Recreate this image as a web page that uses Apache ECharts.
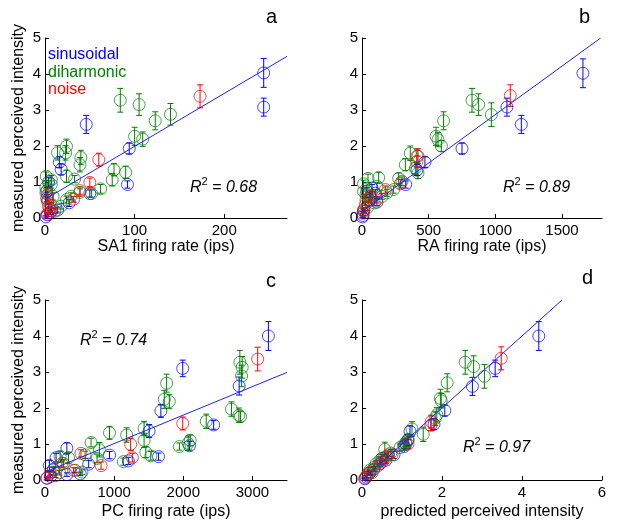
<!DOCTYPE html>
<html><head><meta charset="utf-8">
<script src="https://cdn.jsdelivr.net/npm/echarts@6/dist/echarts.min.js"></script>
<style>html,body{margin:0;padding:0;background:#fff}#c{width:618px;height:526px}</style>
</head><body><div id="c"></div>
<script>
// ---- data: [x, y, error] ----
const saBlue = [[244,4.03,0.4],[244,3.08,0.25],[46,2.6,0.25],[94,1.93,0.15],[92,0.93,0.1],[16,1.55,0.15],[18,1.35,0.15],[50,0.68,0.1],[27,0.42,0.1],[14,0.22,0.08],[4,1.0,0.12],[2,0.55,0.1],[3,0.09,0.05],[1,0.03,0.03],[6,0.15,0.05],[2,0.75,0.1]];
const saGreen = [[84,3.27,0.33],[105,3.15,0.3],[123,2.7,0.25],[140,2.88,0.3],[100,2.27,0.25],[109,2.19,0.2],[24,1.99,0.2],[23,1.81,0.2],[14,1.81,0.2],[40,1.68,0.2],[39,1.48,0.2],[77,1.34,0.17],[90,1.27,0.17],[75,1.06,0.17],[24,1.16,0.17],[33,1.08,0.1],[62,0.81,0.12],[52,0.68,0.1],[39,0.71,0.1],[29,0.6,0.1],[24,0.51,0.1],[18,0.33,0.08],[11,0.19,0.06],[1.5,1.16,0.12],[7,1.06,0.12],[7,0.93,0.1],[1,0.85,0.1],[1,0.71,0.1],[9,0.6,0.1],[7,0.35,0.08],[3,0.45,0.08]];
const saNoise = [[173,3.38,0.32],[60,1.62,0.18],[50,0.99,0.12],[39,0.76,0.1],[32,0.52,0.08],[3,0.65,0.1],[3,0.5,0.08],[4,0.32,0.07],[7,0.2,0.06],[2,0.1,0.05],[5,0.25,0.05]];

const raBlue = [[1657,4.02,0.4],[1087,3.08,0.25],[1195,2.6,0.25],[750,1.93,0.15],[472,1.55,0.15],[412,1.33,0.15],[328,0.93,0.1],[75,0.83,0.1],[37,0.74,0.1],[112,0.44,0.1],[60,0.5,0.08],[12,0.22,0.06],[8,0.07,0.05],[3,0.03,0.03],[100,0.69,0.1]];
const raGreen = [[825,3.27,0.33],[875,3.15,0.3],[970,2.87,0.33],[612,2.7,0.25],[555,2.27,0.25],[570,2.18,0.2],[595,2.0,0.15],[362,1.8,0.2],[420,1.72,0.2],[325,1.48,0.17],[400,1.38,0.17],[420,1.25,0.15],[275,1.1,0.15],[300,1.02,0.12],[125,1.12,0.15],[45,1.1,0.12],[12,0.95,0.1],[12,0.74,0.1],[112,0.88,0.1],[187,0.7,0.1],[237,0.79,0.1],[62,0.6,0.1],[50,0.5,0.08],[92,0.42,0.08],[40,0.28,0.07],[12,0.19,0.06],[30,0.65,0.1],[150,0.6,0.08]];
const raNoise = [[1112,3.4,0.3],[412,1.72,0.2],[412,1.57,0.15],[287,0.95,0.12],[175,0.79,0.1],[110,0.5,0.08],[62,0.6,0.1],[25,0.37,0.08],[15,0.23,0.06],[8,0.13,0.05],[30,0.5,0.07]];

const pcBlue = [[3231,4.0,0.4],[1992,3.1,0.23],[2808,2.61,0.25],[1676,1.92,0.18],[1506,1.36,0.18],[2439,1.53,0.12],[2089,0.95,0.12],[1642,0.65,0.1],[1205,0.53,0.1],[933,0.69,0.1],[632,0.44,0.1],[316,0.88,0.15],[63,0.4,0.15],[160,0.62,0.12],[316,0.15,0.05],[510,0.17,0.05],[121,0.28,0.06],[30,0.05,0.03],[80,0.1,0.04]];
const pcGreen = [[2818,3.27,0.33],[2852,3.13,0.3],[2843,2.89,0.3],[1759,2.69,0.25],[1725,2.24,0.25],[1798,2.18,0.2],[2697,1.97,0.2],[2804,1.8,0.2],[2828,1.76,0.15],[2332,1.63,0.2],[1433,1.43,0.2],[1433,1.1,0.2],[1458,0.77,0.15],[1531,0.67,0.12],[1181,1.25,0.2],[933,1.31,0.18],[666,1.04,0.12],[787,0.84,0.2],[1132,0.51,0.1],[1944,0.93,0.1],[2070,1.02,0.2],[2100,1.1,0.15],[340,0.62,0.15],[219,0.65,0.15],[753,0.6,0.12],[535,0.22,0.06],[267,0.46,0.1],[121,0.3,0.08],[209,0.2,0.06],[437,0.27,0.07],[580,0.7,0.1]];
const pcNoise = [[3076,3.36,0.33],[1992,1.57,0.18],[1239,0.99,0.17],[1263,0.62,0.12],[811,0.4,0.1],[520,0.74,0.1],[413,0.27,0.07],[243,0.46,0.1],[73,0.19,0.06],[24,0.05,0.04],[150,0.12,0.05]];

const pdBlue = [[4.42,4.0,0.4],[3.33,3.1,0.23],[2.76,2.6,0.25],[2.07,1.93,0.15],[1.8,1.55,0.15],[1.2,1.35,0.15],[1.15,1.12,0.15],[1.1,1.0,0.12],[1.05,0.93,0.1],[0.8,0.7,0.1],[0.6,0.55,0.1],[0.45,0.45,0.08],[0.3,0.3,0.07],[0.2,0.2,0.06],[0.1,0.08,0.05],[0.07,0.03,0.03],[0.5,0.6,0.1]];
const pdGreen = [[2.58,3.27,0.33],[2.79,3.15,0.3],[3.06,2.88,0.33],[2.13,2.7,0.25],[1.96,2.27,0.25],[1.98,2.2,0.2],[1.87,1.81,0.2],[1.83,1.71,0.2],[1.53,1.27,0.2],[1.25,1.42,0.2],[1.15,1.1,0.15],[1.1,1.05,0.12],[0.57,0.85,0.2],[0.65,0.7,0.1],[0.75,0.7,0.1],[0.45,0.55,0.1],[0.35,0.45,0.08],[0.3,0.35,0.07],[0.2,0.28,0.06],[0.15,0.18,0.05],[1.05,0.98,0.1],[0.95,0.9,0.1],[0.55,0.62,0.1],[0.25,0.2,0.06]];
const pdNoise = [[3.48,3.38,0.32],[1.73,1.62,0.18],[1.72,1.52,0.15],[1.15,1.0,0.12],[0.72,0.75,0.1],[0.62,0.65,0.1],[0.5,0.5,0.08],[0.4,0.4,0.07],[0.2,0.22,0.06],[0.12,0.12,0.05],[0.08,0.05,0.04]];

// regression lines (endpoints)
const fitSA = [[0,0.52],[270,4.49]];
const fitRA = [[0,0.18],[1790,5.0]];
const fitPC = [[0,0.22],[3500,2.99]];
const fitPD = [[0,0],[5,5]];

// tick labels
const ticksSA = [0,100,200];
const ticksRA = [0,500,1000,1500];
const ticksPC = [0,1000,2000,3000];
const ticksPD = [0,2,4,6];
const ticksY = [0,1,2,3,4,5];

const xNames = ['SA1 firing rate (ips)','RA firing rate (ips)','PC firing rate (ips)','predicted perceived intensity'];
const xMax = [270,1800,3500,6];
const r2Labels = ['0.68','0.89','0.74','0.97'];
const panelLetters = ['a','b','c','d'];
const legendNames = ['sinusoidal','diharmonic','noise'];

const BLUE='#0000ff', GREEN='#008000', RED='#ff0000';
const FONT='Liberation Sans, Arial, sans-serif';

const chart = echarts.init(document.getElementById('c'), null, {renderer:'canvas'});

const grids = [
  {left:45, top:38, width:242, height:180},
  {left:362, top:38, width:240, height:180},
  {left:45, top:300, width:242, height:180},
  {left:362, top:300, width:240, height:180}
];
const xTicks = [ticksSA, ticksRA, ticksPC, ticksPD];
const nameGaps = [19, 19, 24, 24];
const plain = v => String(v);

const xAxis = grids.map((g,i)=>({
  type:'value', gridIndex:i, min:0, max:xMax[i],
  name:xNames[i], nameLocation:'middle', nameGap:nameGaps[i],
  nameTextStyle:{fontSize:16, fontFamily:FONT, color:'#000'},
  axisLine:{show:true, onZero:false, lineStyle:{color:'#000', width:1}},
  axisTick:{show:true, inside:true, length:4, customValues:xTicks[i], lineStyle:{color:'#000'}},
  axisLabel:{show:true, customValues:xTicks[i], formatter:plain, fontSize:15, fontFamily:FONT, color:'#000', margin:5},
  splitLine:{show:false}
}));
const yAxis = grids.map((g,i)=>({
  type:'value', gridIndex:i, min:0, max:5,
  name:(i%2===0)?'measured perceived intensity':'', nameLocation:'middle', nameGap:18,
  nameTextStyle:{fontSize:16, fontFamily:FONT, color:'#000'},
  axisLine:{show:true, onZero:false, lineStyle:{color:'#000', width:1}},
  axisTick:{show:true, inside:true, length:4, customValues:ticksY, lineStyle:{color:'#000'}},
  axisLabel:{show:true, customValues:ticksY, formatter:plain, fontSize:15, fontFamily:FONT, color:'#000', margin:4},
  splitLine:{show:false}
}));

function errRender(params, api){
  const x=api.value(0), y=api.value(1), e=api.value(2);
  const t=api.coord([x,y+e]), b=api.coord([x,y-e]);
  const c=api.visual('color'); const h=3;
  const st={stroke:c, lineWidth:1};
  return {type:'group', children:[
    {type:'line', shape:{x1:t[0],y1:t[1],x2:b[0],y2:b[1]}, style:st},
    {type:'line', shape:{x1:t[0]-h,y1:t[1],x2:t[0]+h,y2:t[1]}, style:st},
    {type:'line', shape:{x1:b[0]-h,y1:b[1],x2:b[0]+h,y2:b[1]}, style:st}
  ]};
}

const panelData = [
  [saBlue, saGreen, saNoise, fitSA],
  [raBlue, raGreen, raNoise, fitRA],
  [pcBlue, pcGreen, pcNoise, fitPC],
  [pdBlue, pdGreen, pdNoise, fitPD]
];
const colors=[BLUE,GREEN,RED];
const series=[];
panelData.forEach((pd,i)=>{
  for(let k=0;k<3;k++){
    series.push({type:'custom', xAxisIndex:i, yAxisIndex:i, renderItem:errRender,
      itemStyle:{color:colors[k]}, encode:{x:0,y:1}, data:pd[k], clip:false, silent:true, z:2});
    series.push({type:'scatter', xAxisIndex:i, yAxisIndex:i, symbol:'circle', symbolSize:12,
      itemStyle:{color:'rgba(0,0,0,0)', borderColor:colors[k], borderWidth:0.8, opacity:0.9},
      data:pd[k].map(d=>[d[0],d[1]]), silent:true, z:3});
  }
  series.push({type:'line', xAxisIndex:i, yAxisIndex:i, data:pd[3], symbol:'none',
    lineStyle:{color:'#2020ff', width:1}, silent:true, z:4, animation:false});
});

const r2Pos = [[190,176],[503,176],[80,329],[463,436]];
const letterPos = [[266,7],[579,7],[266,271],[582,268]];
const graphic=[];
r2Pos.forEach((p,i)=>{
  graphic.push({type:'text', left:p[0], top:p[1], style:{
    text:'{i|R}{s|2}{i| = '+r2Labels[i]+'}',
    rich:{i:{fontSize:16, fontStyle:'italic', fontFamily:FONT, fill:'#000', lineHeight:20, verticalAlign:'bottom'},
          s:{fontSize:11, fontFamily:FONT, fill:'#000', verticalAlign:'top', lineHeight:20}}
  }});
});
letterPos.forEach((p,i)=>{
  graphic.push({type:'text', left:p[0], top:p[1], style:{text:panelLetters[i], fontSize:20, fontFamily:FONT, fill:'#000'}});
});
legendNames.forEach((n,k)=>{
  graphic.push({type:'text', left:48, top:47+k*17.5, style:{text:n, fontSize:16, fontFamily:FONT, fill:colors[k]}});
});

chart.setOption({
  backgroundColor:'#fff', animation:false,
  grid:grids, xAxis:xAxis, yAxis:yAxis, series:series, graphic:graphic
});
</script></body></html>
